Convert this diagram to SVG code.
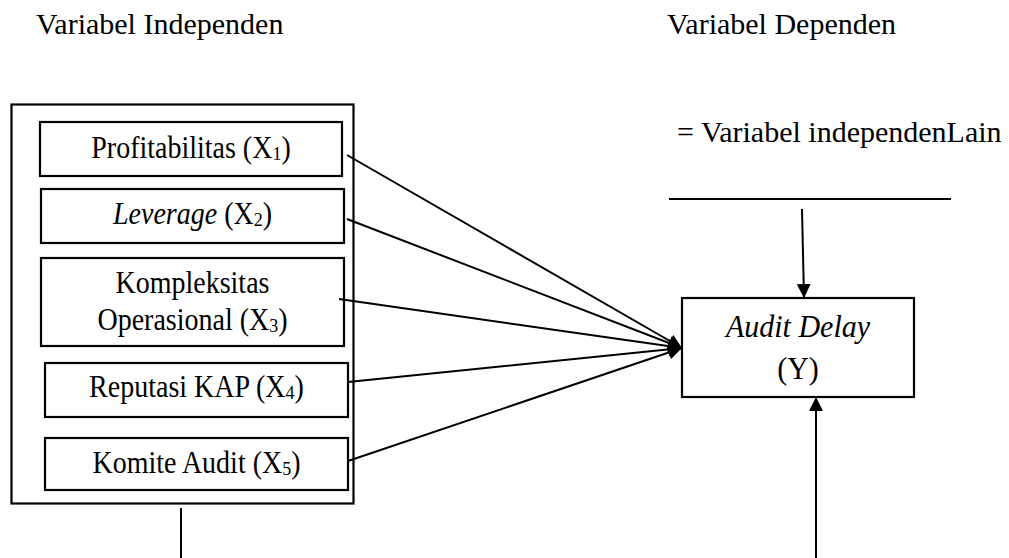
<svg xmlns="http://www.w3.org/2000/svg" width="1009" height="558" viewBox="0 0 1009 558">
  <style>
    .box { fill: #fff; stroke: #000; stroke-width: 2.2; }
    .t { font-family: "Liberation Serif", "Times New Roman", serif; fill: #000; }
    .title { font-size: 30px; }
    .lbl { font-size: 28px; text-anchor: middle; }
    .big { font-size: 30px; }
    .sub { font-size: 18px; }
    .conn { stroke: #000; stroke-width: 2; fill: none; }
  </style>
  <defs>
    <marker id="arr" viewBox="0 0 14 14" refX="14" refY="7" markerWidth="14" markerHeight="14" markerUnits="userSpaceOnUse" orient="auto">
      <path d="M0,0 L14,7 L0,14 z" fill="#000"/>
    </marker>
  </defs>
  <rect width="1009" height="558" fill="#fff"/>

  <text class="t title" x="36" y="34">Variabel Independen</text>
  <text class="t title" x="667" y="34">Variabel Dependen</text>
  <text class="t title" x="677" y="142">= Variabel independenLain</text>

  <g id="independen-group">
    <rect class="box" x="11.5" y="104.5" width="342" height="399"/>
  </g>
  <g id="x1">
    <rect class="box" x="40" y="122" width="302" height="54"/>
    <text class="t lbl" transform="translate(191,158) scale(1,1.1)">Profitabilitas (X<tspan class="sub" dy="2">1</tspan><tspan dy="-2">)</tspan></text>
  </g>
  <g id="x2">
    <rect class="box" x="41" y="189" width="303" height="54"/>
    <text class="t lbl" transform="translate(192.5,224) scale(1,1.1)"><tspan font-style="italic">Leverage</tspan> (X<tspan class="sub" dy="2">2</tspan><tspan dy="-2">)</tspan></text>
  </g>
  <g id="x3">
    <rect class="box" x="41" y="258" width="303" height="88"/>
    <text class="t lbl" transform="translate(192.5,292.5) scale(1,1.1)">Kompleksitas</text>
    <text class="t lbl" transform="translate(192.5,330) scale(1,1.1)">Operasional (X<tspan class="sub" dy="2">3</tspan><tspan dy="-2">)</tspan></text>
  </g>
  <g id="x4">
    <rect class="box" x="45" y="363" width="303" height="54"/>
    <text class="t lbl" transform="translate(196.5,396.5) scale(1,1.1)">Reputasi KAP (X<tspan class="sub" dy="2">4</tspan><tspan dy="-2">)</tspan></text>
  </g>
  <g id="x5">
    <rect class="box" x="45" y="438" width="303" height="52"/>
    <text class="t lbl" transform="translate(196.5,473) scale(1,1.1)">Komite Audit (X<tspan class="sub" dy="2">5</tspan><tspan dy="-2">)</tspan></text>
  </g>
  <g id="y">
    <rect class="box" x="682" y="298" width="232" height="99"/>
    <text class="t lbl big" transform="translate(798,336.5) scale(1,1.05)" font-style="italic">Audit Delay</text>
    <text class="t lbl big" transform="translate(798,379) scale(1,1.05)">(Y)</text>
  </g>

  <g id="connectors">
    <line class="conn" x1="347" y1="155" x2="682" y2="348" marker-end="url(#arr)"/>
    <line class="conn" x1="347" y1="219" x2="682" y2="348" marker-end="url(#arr)"/>
    <line class="conn" x1="339" y1="299" x2="682" y2="348" marker-end="url(#arr)"/>
    <line class="conn" x1="348" y1="382" x2="682" y2="348" marker-end="url(#arr)"/>
    <line class="conn" x1="348" y1="461" x2="682" y2="348" marker-end="url(#arr)"/>
    <line class="conn" x1="181" y1="508" x2="181" y2="558"/>
    <line class="conn" x1="669" y1="199" x2="951" y2="199" stroke-width="2.4"/>
    <line class="conn" x1="802" y1="209" x2="804" y2="298" marker-end="url(#arr)"/>
    <line class="conn" x1="816" y1="558" x2="816" y2="397" marker-end="url(#arr)"/>
  </g>
</svg>
